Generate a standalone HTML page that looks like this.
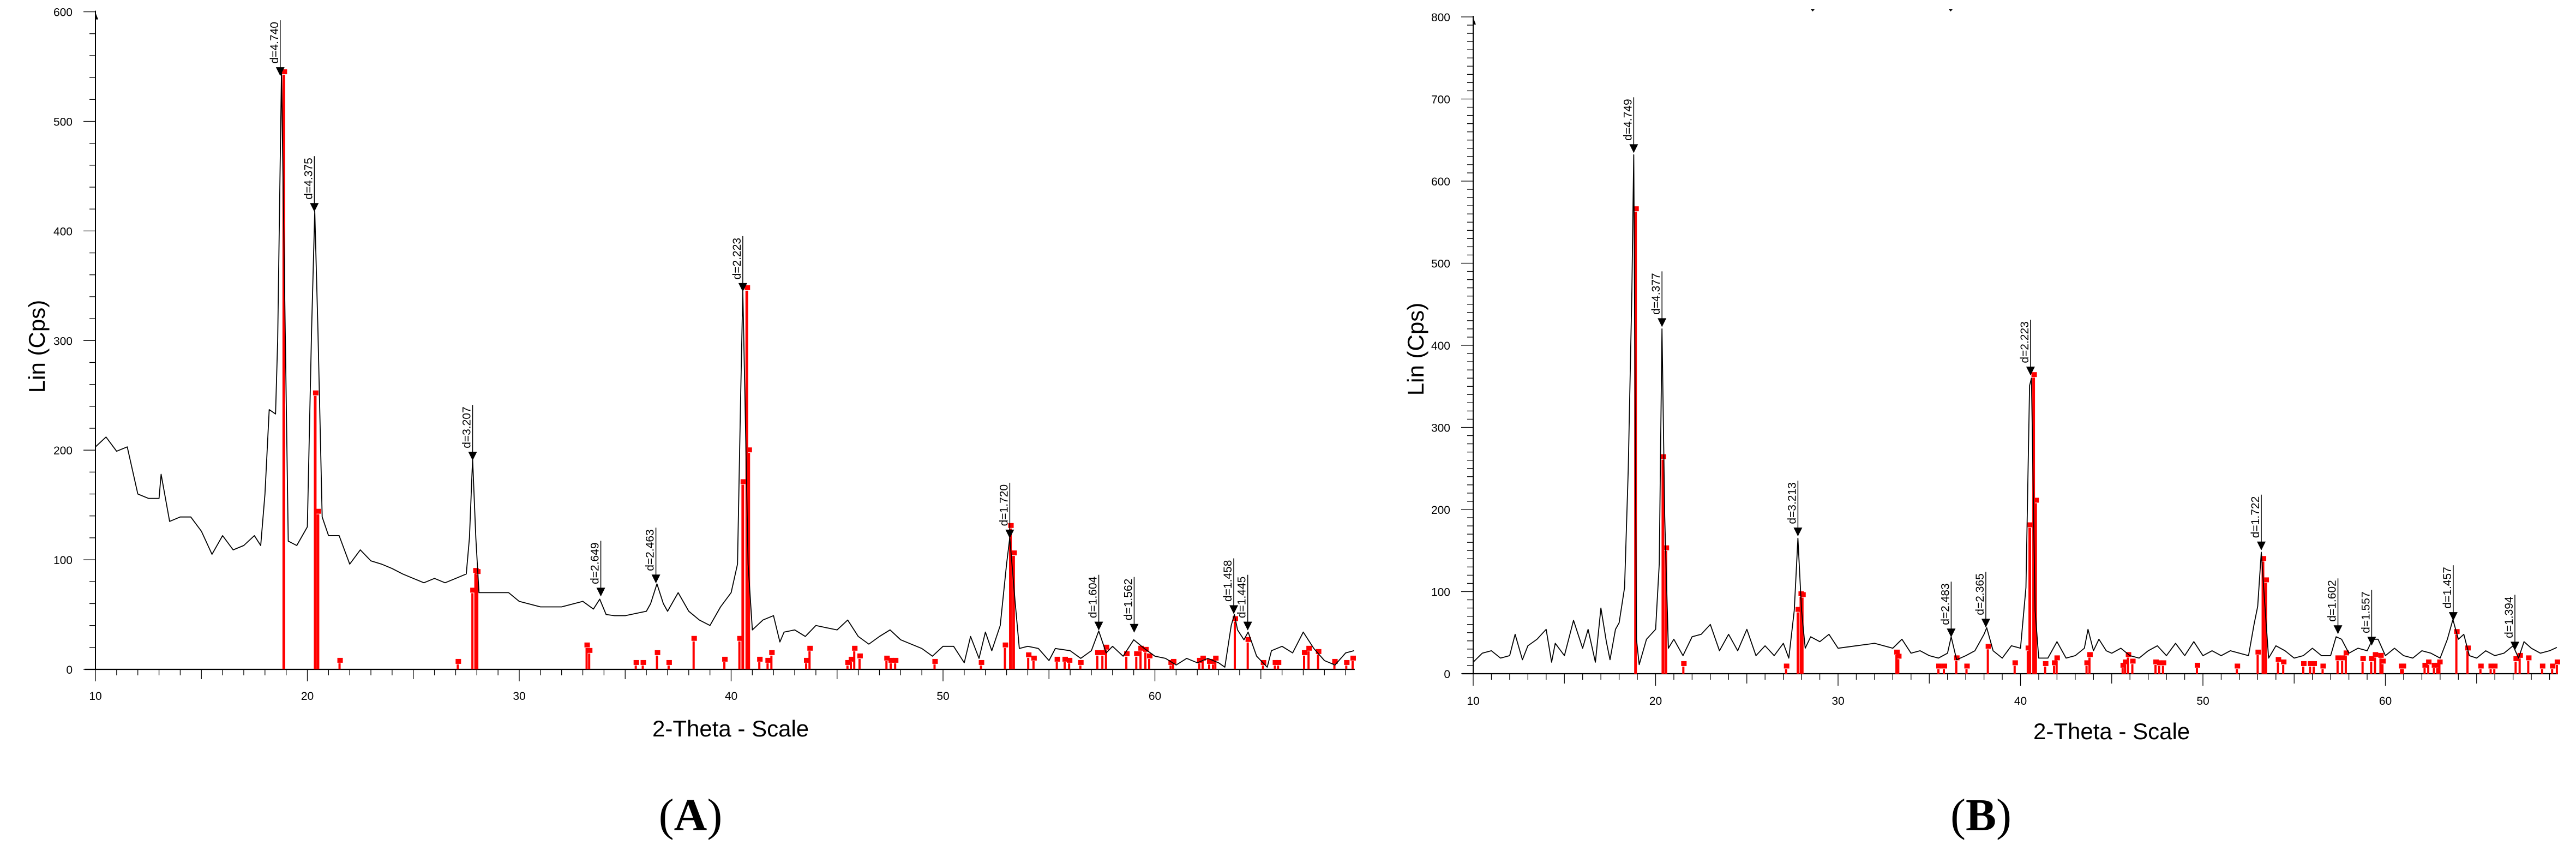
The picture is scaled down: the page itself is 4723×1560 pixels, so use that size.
<!DOCTYPE html>
<html><head><meta charset="utf-8">
<style>
html,body{margin:0;padding:0;background:#fff;}
svg{display:block;}
text{font-family:"Liberation Sans",Arial,sans-serif;fill:#000;}
</style></head>
<body>
<svg id="fig" width="4723" height="1560" viewBox="0 0 4723 1560" xmlns="http://www.w3.org/2000/svg">
<g id="panelA"></g>
<g id="panelB"></g>
<text x="1266" y="1522" text-anchor="middle" style="font-family:'Liberation Serif',serif;font-size:84px;">(<tspan font-weight="bold">A</tspan>)</text>
<text x="3632" y="1522" text-anchor="middle" style="font-family:'Liberation Serif',serif;font-size:84px;">(<tspan font-weight="bold">B</tspan>)</text>
<path d="M3320,17 h7 l-3.5,4z M3573,17 h7 l-3.5,4z" fill="#000"/>
</svg>
<script>
const xTickLabels = [10,20,30,40,50,60];
const yTicksA = [0,100,200,300,400,500,600];
const yTicksB = [0,100,200,300,400,500,600,700,800];

const thetaA = [10,10.5,11,11.5,12,12.5,13,13.1,13.5,14,14.5,15,15.5,16,16.5,17,17.5,17.8,18,18.2,18.5,18.6,18.78,19.1,19.5,20,20.2,20.35,20.5,20.7,21,21.5,22,22.5,23,23.5,24,24.5,25,25.5,26,26.5,27,27.5,27.65,27.8,27.95,28.1,28.5,29,29.5,30,31,32,33,33.5,33.8,34.1,34.5,35,36,36.2,36.5,36.8,37,37.5,38,38.5,39,39.5,40,40.3,40.45,40.55,40.65,40.8,41,41.5,42,42.3,42.5,43,43.5,44,44.5,45,45.5,46,46.5,47,47.5,48,48.5,49,49.5,50,50.5,51,51.3,51.7,52,52.3,52.7,53,53.15,53.4,53.6,54,54.5,55,55.3,56,56.5,57,57.35,57.7,58,58.5,59,59.5,60,60.5,61,61.5,62,62.5,63,63.3,63.6,63.75,63.9,64.2,64.4,64.8,65.3,65.5,66,66.5,67,67.5,68,68.5,69,69.4];
const countsA = [203,212,199,203,160,156,156,178,135,139,139,126,105,122,109,113,122,113,160,237,233,300,545,117,113,130,310,418,310,139,122,122,96,109,99,96,92,87,83,79,83,79,83,87,120,192,120,70,70,70,70,62,57,57,62,55,64,50,49,49,53,60,78,60,53,70,53,45,40,57,70,96,250,345,250,96,36,45,49,25,34,36,30,40,38,36,45,30,23,30,36,27,23,19,12,21,21,6,30,10,34,17,40,96,120,62,19,21,19,8,19,17,10,17,35,15,21,12,27,19,12,10,4,10,6,10,6,2,40,50,36,27,34,12,2,17,21,15,34,19,8,4,15,17];

const stickThetaA = [18.89,20.37,20.5,21.52,27.1,27.79,27.93,28.02,33.18,33.3,35.5,35.83,36.5,37.05,38.23,39.68,40.39,40.55,40.74,40.83,41.33,41.72,41.9,43.54,43.7,45.49,45.65,45.81,46.06,47.33,47.53,47.74,49.6,51.79,52.92,53.18,53.33,54.02,54.27,55.37,55.74,55.95,56.48,57.28,57.52,57.69,58.65,59.12,59.32,59.55,59.73,60.74,60.86,62.09,62.25,62.56,62.74,62.85,63.77,64.38,65.1,65.66,65.81,67.04,67.25,67.7,68.47,69.03,69.33];
const stickCountsA = [545,252,144,8,7,72,90,89,22,17,6,6,15,6,28,9,28,171,348,200,9,8,15,8,19,6,9,19,12,10,8,8,7,6,22,131,106,13,10,9,9,8,6,15,15,20,14,14,19,18,12,6,7,8,10,7,7,10,46,27,6,6,6,15,19,16,7,6,10];

const peakThetaA = [18.72,20.33,27.8,33.85,36.45,40.55,53.15,57.35,59.02,63.72,64.38];
const peakCountsA = [542,418,191,67,79,345,120,36,34,51,36];
const peakLabelsA = ["d=4.740","d=4.375","d=3.207","d=2.649","d=2.463","d=2.223","d=1.720","d=1.604","d=1.562","d=1.458","d=1.445"];

const thetaB = [10,10.5,11,11.5,12,12.3,12.7,13,13.5,14,14.3,14.5,15,15.5,16,16.3,16.7,17,17.3,17.5,17.8,18,18.3,18.5,18.7,18.8,18.95,19.1,19.5,20,20.2,20.35,20.5,20.7,21,21.5,22,22.5,23,23.5,24,24.5,25,25.5,26,26.5,27,27.3,27.6,27.8,28,28.2,28.5,29,29.5,30,31,32,33,33.5,34,34.5,35,35.5,36,36.2,36.5,37,37.5,38,38.15,38.5,39,39.5,40,40.3,40.5,40.6,40.8,41,41.5,42,42.5,43,43.5,43.7,44,44.3,44.7,45,45.5,46,46.5,47,47.5,48,48.5,49,49.5,50,50.5,51,51.5,52,52.5,52.8,53,53.2,53.4,53.6,54,54.5,55,55.5,56,56.5,57,57.3,57.6,58,58.5,59,59.3,59.6,60,60.5,61,61.5,62,62.5,63,63.4,63.7,64,64.3,64.6,65,65.5,66,66.5,67,67.3,67.6,68,68.5,69,69.4];
const countsB = [14,25,28,19,22,48,17,34,42,54,14,37,22,65,31,54,14,80,39,17,54,62,105,248,466,632,42,11,42,54,134,420,191,31,42,22,45,48,60,28,48,28,54,22,34,22,37,19,77,165,77,31,45,39,48,31,34,37,31,42,25,28,22,19,25,45,17,22,28,48,56,28,19,34,31,105,351,360,77,19,19,39,19,22,31,54,28,42,28,25,31,22,19,28,34,22,37,22,39,22,28,22,28,25,22,60,82,148,82,19,34,28,19,22,31,22,22,45,42,25,31,28,42,42,22,31,22,19,28,25,19,42,66,42,48,22,19,28,22,25,34,19,39,31,25,28,32];

const stickThetaB = [18.9,20.4,20.56,21.52,27.15,27.79,27.95,28.05,33.2,33.3,35.5,35.8,36.48,37.04,38.21,39.68,40.4,40.51,40.72,40.83,41.35,41.84,41.98,43.62,43.78,45.6,45.73,45.89,46.13,47.4,47.6,47.81,49.67,51.86,53.0,53.29,53.44,54.11,54.4,55.5,55.87,56.07,56.56,57.38,57.63,57.83,58.75,59.22,59.43,59.73,59.84,60.86,60.96,62.15,62.35,62.66,62.84,62.96,63.89,64.5,65.21,65.77,65.97,67.14,67.36,67.83,68.59,69.14,69.4];
const stickCountsB = [566,264,153,12,9,78,97,96,26,21,9,9,19,9,33,13,31,181,364,211,12,13,19,13,23,10,14,23,15,14,13,13,10,9,26,140,114,17,14,12,12,12,9,19,19,25,18,18,23,22,15,9,9,10,14,10,10,14,51,31,9,9,9,18,22,19,9,9,14];

const peakThetaB = [18.8,20.35,27.8,36.2,38.1,40.55,53.2,57.4,59.25,63.72,67.1];
const peakCountsB = [635,423,168,45,57,364,151,49,35,65,29];
const peakLabelsB = ["d=4.749","d=4.377","d=3.213","d=2.483","d=2.365","d=2.223","d=1.722","d=1.602","d=1.557","d=1.457","d=1.394"];

const NS = "http://www.w3.org/2000/svg";
function mk(parent, tag, attrs){
  const el = document.createElementNS(NS, tag);
  for (const k in attrs) el.setAttribute(k, attrs[k]);
  parent.appendChild(el);
  return el;
}

function drawPanel(g, cfg, yTicks, minorStep, theta, counts, sT, sC, pT, pC, pL){
  const X = t => cfg.x0 + (t - 10) * cfg.pxPerDeg;
  const Y = v => cfg.y0 - v * cfg.pxPerCount;
  const xEnd = X(cfg.tMax);
  const yTop = Y(cfg.vMax);

  const yAxis = mk(g, 'line', {x1:cfg.x0, y1:yTop-2, x2:cfg.x0, y2:cfg.y0, stroke:'#000', 'stroke-width':2});
  
  
  const xAxis = mk(g, 'line', {x1:cfg.x0-20, y1:cfg.y0, x2:xEnd, y2:cfg.y0, stroke:'#000', 'stroke-width':2.2});
  
  
  const arrow = mk(g, 'path', {d:`M${cfg.x0},${yTop+1} L${cfg.x0+5},${yTop+14} L${cfg.x0},${yTop+14} Z`, fill:'#000'});
  
  

  for (let v = 0; v <= cfg.vMax + 0.001; v += minorStep){
    const major = Math.abs(v % 100) < 0.001;
    const tk = mk(g, 'line', {x1:cfg.x0 - (major?22:11), y1:Y(v), x2:cfg.x0, y2:Y(v), stroke:'#000', 'stroke-width':1.3});
    
    
  }
  yTicks.forEach(v => {
    const t = mk(g, 'text', {x:cfg.x0-42, y:Y(v)+8, 'text-anchor':'end', 'font-size':21});
    t.textContent = v;
    
    
  });
  for (let t = 10; t <= cfg.tMax; t += 1){
    const len = (t % 10 === 0) ? 22 : (t % 5 === 0 ? 18 : 11);
    const tk = mk(g, 'line', {x1:X(t), y1:cfg.y0, x2:X(t), y2:cfg.y0+len, stroke:'#000', 'stroke-width':1.3});
    
    
  }
  xTickLabels.forEach(t => {
    const tx = mk(g, 'text', {x:X(t), y:cfg.y0+cfg.xLabelDy, 'text-anchor':'middle', 'font-size':21});
    tx.textContent = t;
    
    
  });
  const xt = mk(g, 'text', {x:cfg.xTitleX, y:cfg.xTitleY, 'font-size':42});
  xt.textContent = '2-Theta - Scale';
  
  
  const yt = mk(g, 'text', {x:0, y:0, 'font-size':42, 'text-anchor':'middle', transform:`translate(${cfg.yTitleX},${cfg.yTitleY}) rotate(-90)`});
  yt.textContent = 'Lin (Cps)';
  
  

  sT.forEach((t, i) => {
    const x = X(t), top = Y(sC[i]);
    const w = sC[i] > 100 ? 5 : 4;
    const bar = mk(g, 'rect', {x:x - w/2, y:top + 5, width:w, height:Math.max(0, cfg.y0 - top - 5), fill:'#ff0000'});
    
    
    const sq = mk(g, 'rect', {x:x - 4, y:top - 5, width:10, height:9, fill:'#ff0000'});
    
    
  });

  const pts = theta.map((t, i) => X(t).toFixed(1) + ',' + Y(counts[i]).toFixed(1)).join(' ');
  const pl = mk(g, 'polyline', {points:pts, fill:'none', stroke:'#000', 'stroke-width':1.8, 'stroke-linejoin':'round'});
  
  

  pT.forEach((t, i) => {
    const x = X(t), tip = Y(pC[i]);
    const topY = tip - 101;
    const ln = mk(g, 'line', {x1:x, y1:topY, x2:x, y2:tip, stroke:'#000', 'stroke-width':1.5});
    
    
    const tri = mk(g, 'path', {d:`M${x-8},${tip-15} L${x+8},${tip-15} L${x},${tip+1} Z`, fill:'#000'});
    
    
    const lb = mk(g, 'text', {x:0, y:0, 'font-size':21, 'text-anchor':'end', transform:`translate(${x-4},${topY+3}) rotate(-90)`});
    lb.textContent = pL[i];
    
    
  });
}

drawPanel(document.getElementById('panelA'),
  {x0:175, y0:1227, pxPerDeg:38.85, pxPerCount:2.009, tMax:69.43, vMax:600, xLabelDy:56, xTitleX:1196, xTitleY:1350, yTitleX:82, yTitleY:635},
  yTicksA, 20, thetaA, countsA, stickThetaA, stickCountsA, peakThetaA, peakCountsA, peakLabelsA);

drawPanel(document.getElementById('panelB'),
  {x0:2701, y0:1235, pxPerDeg:33.45, pxPerCount:1.505, tMax:69.46, vMax:800, xLabelDy:57, xTitleX:3728, xTitleY:1355, yTitleX:2610, yTitleY:640},
  yTicksB, 10, thetaB, countsB, stickThetaB, stickCountsB, peakThetaB, peakCountsB, peakLabelsB);
</script>
</body></html>
